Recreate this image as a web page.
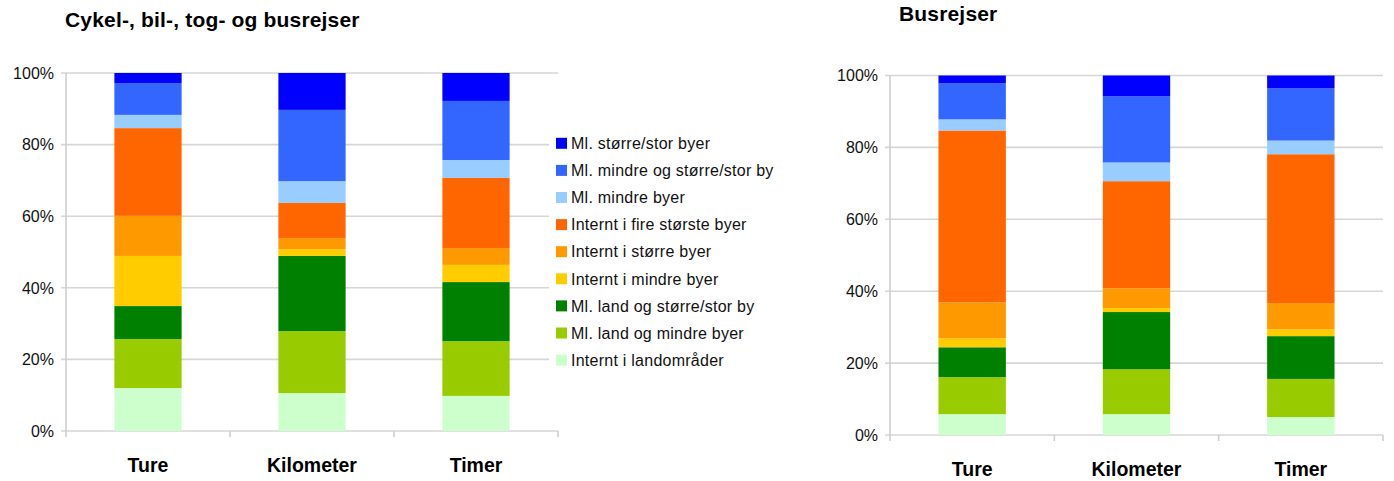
<!DOCTYPE html>
<html>
  <head>
    <meta charset="utf-8" />
    <style>
      body,
      html {
        width: 100%;
        height: 100%;
        margin: 0;
        padding: 0;
        overflow: hidden;
        background: #fff;
      }

      svg {
        display: block;
        font-family: "Liberation Sans", Arial, sans-serif;
      }
    </style>
  </head>
  <body>
    <script src="https://cdn.jsdelivr.net/npm/d3@7"></script>
    <script>
      // Categories on the x axis
      const categories = ["Ture", "Kilometer", "Timer"];

      // Series, bottom of the stack first
      const seriesNames = [
        "Internt i landområder",
        "Ml. land og mindre byer",
        "Ml. land og større/stor by",
        "Internt i mindre byer",
        "Internt i større byer",
        "Internt i fire største byer",
        "Ml. mindre byer",
        "Ml. mindre og større/stor by",
        "Ml. større/stor byer",
      ];

      const seriesColors = [
        "#CCFFCC",
        "#99CC00",
        "#008000",
        "#FFCC00",
        "#FF9900",
        "#FF6600",
        "#99CCFF",
        "#3366FF",
        "#0000FF",
      ];

      // Cykel-, bil-, tog- og busrejser (percent, same order as seriesNames)
      const allTure = [12.0, 13.7, 9.2, 14.0, 11.2, 24.5, 3.7, 8.9, 2.8];
      const allKilometer = [10.6, 17.3, 21.0, 1.9, 3.1, 9.8, 6.1, 19.9, 10.3];
      const allTimer = [9.8, 15.3, 16.5, 4.8, 4.7, 19.6, 5.0, 16.5, 7.8];

      // Busrejser
      const busTure = [5.8, 10.3, 8.3, 2.5, 10.0, 47.8, 3.1, 10.0, 2.2];
      const busKilometer = [5.8, 12.5, 15.9, 1.1, 5.5, 29.8, 5.2, 18.4, 5.8];
      const busTimer = [5.0, 10.6, 11.9, 1.9, 7.3, 41.4, 3.8, 14.5, 3.6];

      const yTicks = [0, 20, 40, 60, 80, 100];
      const yTickLabels = ["0%", "20%", "40%", "60%", "80%", "100%"];

      const width = 1394;
      const height = 481;

      const svg = d3
        .select("body")
        .append("svg")
        .attr("width", width)
        .attr("height", height);

      function toRows(valueLists) {
        return categories.map((c, i) => {
          const row = { category: c };
          seriesNames.forEach((s, j) => {
            row[s] = valueLists[i][j];
          });
          return row;
        });
      }

      function drawChart(opts) {
        const g = svg.append("g");

        const x = d3
          .scaleBand()
          .domain(categories)
          .range([opts.left, opts.right])
          .paddingInner(0.59)
          .paddingOuter(0.295);

        const y = d3
          .scaleLinear()
          .domain([0, 100])
          .range([opts.bottom, opts.top]);

        const step = x.step();

        // gridlines + y labels
        g.selectAll(".grid")
          .data(yTicks)
          .enter()
          .append("line")
          .attr("x1", opts.left - 5)
          .attr("x2", opts.right)
          .attr("y1", (d) => y(d))
          .attr("y2", (d) => y(d))
          .attr("stroke", "#d6d6d6")
          .attr("stroke-width", 1.6);

        g.selectAll(".ylab")
          .data(yTicks)
          .enter()
          .append("text")
          .attr("x", opts.left - 12)
          .attr("y", (d) => y(d))
          .attr("dy", "0.36em")
          .attr("text-anchor", "end")
          .attr("font-size", "16px")
          .attr("fill", "#111")
          .text((d, i) => yTickLabels[i]);

        // y axis line
        g.append("line")
          .attr("x1", opts.left)
          .attr("x2", opts.left)
          .attr("y1", opts.top)
          .attr("y2", opts.bottom + 6)
          .attr("stroke", "#cfcfcf")
          .attr("stroke-width", 1.6);

        // x ticks at category boundaries
        g.selectAll(".xtick")
          .data(d3.range(1, categories.length + 1))
          .enter()
          .append("line")
          .attr("x1", (d) => opts.left + d * step)
          .attr("x2", (d) => opts.left + d * step)
          .attr("y1", opts.bottom)
          .attr("y2", opts.bottom + 6)
          .attr("stroke", "#cfcfcf")
          .attr("stroke-width", 1.6);

        const stacked = d3.stack().keys(seriesNames)(toRows(opts.values));

        g.selectAll(".layer")
          .data(stacked)
          .enter()
          .append("g")
          .attr("fill", (d, i) => seriesColors[i])
          .selectAll("rect")
          .data((d) => d)
          .enter()
          .append("rect")
          .attr("x", (d) => x(d.data.category))
          .attr("width", x.bandwidth())
          .attr("y", (d) => y(d[1]))
          .attr("height", (d) => y(d[0]) - y(d[1]));

        // category labels
        g.selectAll(".xlab")
          .data(categories)
          .enter()
          .append("text")
          .attr("x", (d) => x(d) + x.bandwidth() / 2)
          .attr("y", opts.bottom + 41)
          .attr("text-anchor", "middle")
          .attr("font-size", "19.5px")
          .attr("font-weight", "bold")
          .attr("fill", "#000")
          .text((d) => d);

        g.append("text")
          .attr("x", opts.titleX)
          .attr("y", opts.titleY)
          .attr("font-size", "21px")
          .attr("font-weight", "bold")
          .attr("letter-spacing", "0.17px")
          .attr("fill", "#000")
          .text(opts.title);

        return g;
      }

      drawChart({
        left: 66,
        right: 558,
        top: 73,
        bottom: 431,
        values: [allTure, allKilometer, allTimer],
        title: "Cykel-, bil-, tog- og busrejser",
        titleX: 65,
        titleY: 27,
      });

      drawChart({
        left: 890,
        right: 1383,
        top: 75.5,
        bottom: 435,
        values: [busTure, busKilometer, busTimer],
        title: "Busrejser",
        titleX: 899,
        titleY: 21,
      });

      // legend, drawn top to bottom (reverse stack order)
      const legend = svg.append("g");

      legend
        .append("rect")
        .attr("x", 549)
        .attr("y", 125)
        .attr("width", 240)
        .attr("height", 252)
        .attr("fill", "#fff");

      const legendItems = seriesNames
        .map((s, i) => ({ name: s, color: seriesColors[i] }))
        .reverse();

      const rows = legend
        .selectAll(".item")
        .data(legendItems)
        .enter()
        .append("g")
        .attr("transform", (d, i) => `translate(556, ${143.3 + i * 27.1})`);

      rows
        .append("rect")
        .attr("x", 0)
        .attr("y", -5.5)
        .attr("width", 11)
        .attr("height", 11)
        .attr("fill", (d) => d.color);

      rows
        .append("text")
        .attr("x", 15)
        .attr("y", 0)
        .attr("dy", "0.36em")
        .attr("font-size", "16px")
        .attr("letter-spacing", "0.25px")
        .attr("fill", "#111")
        .text((d) => d.name);
    </script>
  </body>
</html>
